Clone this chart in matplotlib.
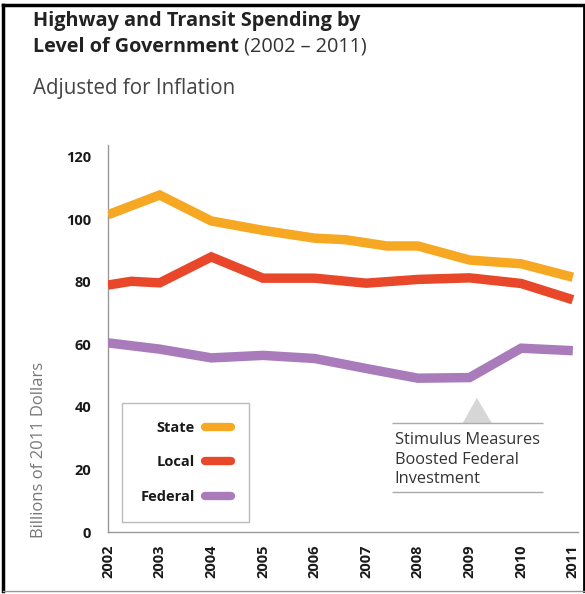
import matplotlib
matplotlib.use("Agg")
import matplotlib.pyplot as plt
from matplotlib.lines import Line2D
from matplotlib.patches import Polygon

plt.rcParams['font.family'] = ['Open Sans', 'DejaVu Sans']

# ---- data ----
state_years = [2002, 2003, 2004, 2005, 2006, 2006.6, 2007.4, 2008, 2009, 2010, 2011]
state_values = [101.5, 107.8, 99.5, 96.5, 94.0, 93.5, 91.5, 91.5, 87.0, 85.8, 81.5]

local_years = [2002, 2002.45, 2003, 2004, 2005, 2006, 2007, 2008, 2009, 2010, 2011]
local_values = [79.0, 80.2, 79.7, 88.0, 81.2, 81.2, 79.6, 80.8, 81.3, 79.5, 74.3]

federal_years = [2002, 2003, 2004, 2005, 2006, 2007, 2008, 2009, 2010, 2011]
federal_values = [60.5, 58.5, 55.7, 56.5, 55.5, 52.3, 49.2, 49.4, 58.8, 58.0]

x_ticks = [2002, 2003, 2004, 2005, 2006, 2007, 2008, 2009, 2010, 2011]
y_ticks = [0, 20, 40, 60, 80, 100, 120]

series_names = ["State", "Local", "Federal"]
colors = ["#F7A823", "#E8472A", "#A97BBB"]

W, H = 585, 594
fig = plt.figure(figsize=(W / 100, H / 100), dpi=100)
fig.patch.set_facecolor("white")

ax = fig.add_axes([108 / W, 1 - 532 / H, 470 / W, 387 / H])
ax.set_xlim(2002, 2011.1)
ax.set_ylim(0, 123.8)

for xs, ys, c in zip([state_years, local_years, federal_years],
                     [state_values, local_values, federal_values], colors):
    ax.plot(xs, ys, color=c, lw=6.8, solid_capstyle="butt", solid_joinstyle="miter", zorder=3)

for s in ["top", "right"]:
    ax.spines[s].set_visible(False)
for s in ["left", "bottom"]:
    ax.spines[s].set_color("#999999")
    ax.spines[s].set_linewidth(1.0)

ax.set_xticks(x_ticks)
ax.set_xticklabels([str(y) for y in x_ticks], rotation=90, fontweight="bold",
                   fontsize=10.5, color="#1a1a1a")
ax.set_yticks(y_ticks)
ax.set_yticklabels([str(v) for v in y_ticks], fontweight="bold", fontsize=10.5, color="#1a1a1a")
ax.tick_params(axis="both", length=0)
ax.tick_params(axis="y", pad=12)
ax.tick_params(axis="x", pad=9)

# legend
handles = [Line2D([0], [0], color=c, lw=6, solid_capstyle="round") for c in colors]
leg = ax.legend(handles, series_names, loc="lower left",
                bbox_to_anchor=(14 / 470, 10 / 387), markerfirst=False,
                frameon=True, fancybox=False, handlelength=1.8, handletextpad=0.7,
                labelspacing=1.4, borderpad=1.25, borderaxespad=0,
                prop={"weight": "bold", "size": 10.5})
leg.get_frame().set_edgecolor("#aaaaaa")
leg.get_frame().set_linewidth(1.0)
for t in leg.get_texts():
    t.set_color("#1a1a1a")
    t.set_ha("right")

# annotation: triangle, rules and text
tri = Polygon([[2008.87, 34.9], [2009.14, 42.9], [2009.43, 34.9]], closed=True,
              facecolor="#d6d6d6", edgecolor="none", zorder=2)
ax.add_patch(tri)
ax.hlines([35.0, 12.8], 2007.5, 2010.42, color="#aaaaaa", lw=1.0)
ax.text(2007.55, 32.0, "Stimulus Measures\nBoosted Federal\nInvestment", ha="left", va="top",
        fontsize=11.8, color="#333333", linespacing=1.3)

# titles
t1 = fig.text(33 / W, 1 - 26 / H, "Highway and Transit Spending by", fontsize=14.3,
              fontweight="bold", color="#222222", va="baseline")
t2 = fig.text(33 / W, 1 - 51.7 / H, "Level of Government", fontsize=14.3,
              fontweight="bold", color="#222222", va="baseline")
ax.annotate(" (2002 \u2013 2011)", xy=(1, 0), xycoords=t2, fontsize=14.3, color="#333333",
            va="bottom", ha="left", annotation_clip=False)
fig.text(33 / W, 1 - 94 / H, "Adjusted for Inflation", fontsize=14.8, color="#444444",
         va="baseline")

fig.text(39 / W, 1 - 450 / H, "Billions of 2011 Dollars", rotation=90, fontsize=12,
         color="#777777", ha="center", va="center")

# outer frame
fig.add_artist(Line2D([3 / W, 3 / W], [1 - 591 / H, 1 - 5 / H], color="black", lw=2.5,
                      transform=fig.transFigure))
fig.add_artist(Line2D([3 / W, 584 / W], [1 - 5 / H, 1 - 5 / H], color="black", lw=2.5,
                      transform=fig.transFigure))
fig.add_artist(Line2D([584 / W, 584 / W], [1 - 591 / H, 1 - 5 / H], color="black", lw=2.0,
                      transform=fig.transFigure))
fig.add_artist(Line2D([3 / W, 584 / W], [1 - 591 / H, 1 - 591 / H], color="#999999", lw=1.0,
                      transform=fig.transFigure))

fig.savefig("out.png", dpi=100)
